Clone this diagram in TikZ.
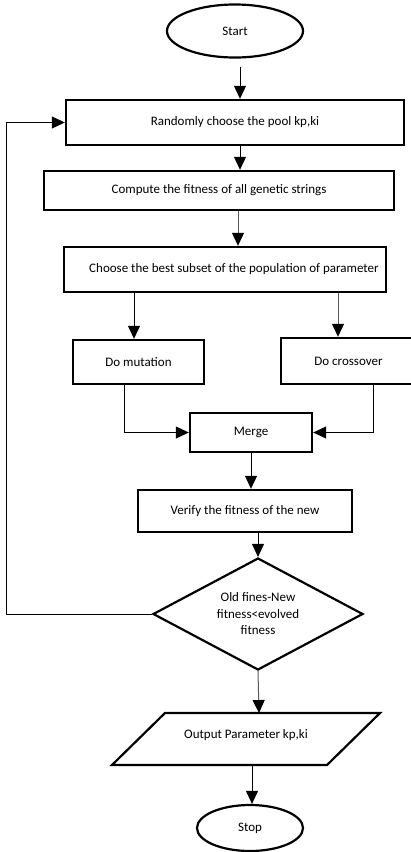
\documentclass[tikz,border=0pt]{standalone}
\usepackage{fontspec}
\setmainfont{Carlito}
\usetikzlibrary{arrows.meta,shapes.geometric,calc}
\begin{document}
\begin{tikzpicture}[x=1pt,y=-1pt,
  every node/.style={font=\fontsize{13}{16.5}\selectfont},
  box/.style={draw,line width=2.4pt,rectangle,inner sep=0pt},
  term/.style={draw,line width=2.2pt,ellipse,inner sep=0pt},
  arr/.style={line width=1pt,-{Triangle[width=12pt,length=13pt]}},
  grayarr/.style={arr,draw=black!65,-{Triangle[width=12pt,length=13pt,fill=black,color=black]}}]
\useasboundingbox (0,0) rectangle (410,852);

\node[term,minimum width=136pt,minimum height=53pt] (start) at (235,31) {Start};
\node[box,minimum width=338pt,minimum height=45pt] (b1) at (235,122.5) {Randomly choose the pool kp,ki};
\node[box,minimum width=350pt,minimum height=39pt] (b2) at (219,190.5) {Compute the fitness of all genetic strings};
\node[box,minimum width=322pt,minimum height=45pt] (b3) at (225,269.5) {\hspace*{18pt}Choose the best subset of the population of parameter};
\node[box,minimum width=131pt,minimum height=44pt] (m) at (138.5,362) {Do mutation};
\node[box,minimum width=135pt,minimum height=46pt] (c) at (348.5,361) {Do crossover};
\node[box,minimum width=122pt,minimum height=39pt] (mg) at (251,432.5) {Merge};
\node[box,minimum width=214pt,minimum height=42pt] (v) at (245,511) {Verify the fitness of the new};
\node[draw,diamond,line width=2.2pt,aspect=1.875,minimum width=210pt,minimum height=112pt,inner sep=0pt,align=center] (dec) at (258,614) {Old fines-New\\fitness<evolved\\fitness};
\coordinate (outc) at (246,739);
\node (out) at (246,735) {Output Parameter kp,ki};
\draw[line width=2.2pt,line join=miter] ($(outc)+(-134,26)$) -- ($(outc)+(81,26)$) -- ($(outc)+(134,-26)$) -- ($(outc)+(-81,-26)$) -- cycle;
\coordinate (outtop) at ($(outc)+(13,-26)$);
\coordinate (outbot) at ($(outc)+(6,26)$);
\node[term,minimum width=106pt,minimum height=46pt] (stop) at (250,828) {Stop};

% connectors
\coordinate (s1) at ([xshift=5pt,yshift=-8pt]start.south);
\draw[arr] (s1) -- (s1 |- b1.north);
\coordinate (s2) at ([xshift=5pt]b1.south);
\draw[arr] (s2) -- (s2 |- b2.north);
\coordinate (s3) at ([xshift=19pt]b2.south);
\draw[grayarr] (s3) -- (s3 |- b3.north);
\coordinate (m4) at ([xshift=-4.5pt]m.north);
\draw[arr] (m4 |- b3.south) -- (m4);
\coordinate (c5) at ([xshift=-10.5pt]c.north);
\draw[grayarr] (c5 |- b3.south) -- (c5);
\draw[arr] ([xshift=-14.5pt]m.south) |- (mg.west);
\draw[arr] ([xshift=24.5pt]c.south) |- (mg.east);
\draw[arr] (mg.south) -- (mg.south |- v.north);
\coordinate (v9) at ([xshift=13pt]v.south);
\draw[arr] (v9) -- (dec.north);
\draw[arr] (dec.west) -- ++(-145,0) |- (b1.west);
\draw[grayarr] (dec.south) -- (outtop);
\draw[arr] (outbot) -- (outbot |- stop.north);
\end{tikzpicture}
\end{document}
